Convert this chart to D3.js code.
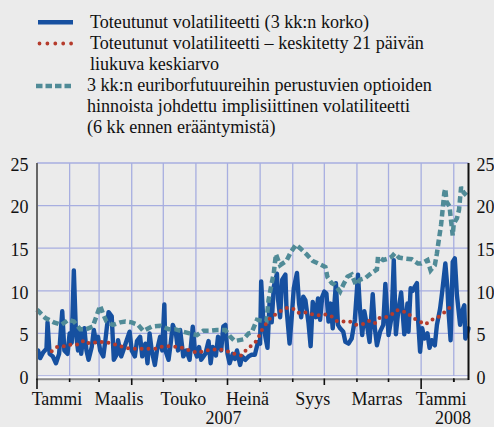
<!DOCTYPE html>
<html>
<head>
<meta charset="utf-8">
<script src="https://cdn.jsdelivr.net/npm/d3@7"></script>
<style>
  body { margin: 0; background: #ebebeb; }
  svg, svg text { font-family: "Liberation Serif", "Times New Roman", Times, serif; }
</style>
</head>
<body>
<svg width="494" height="427"></svg>
<script>
// --- data ---
var legendText = [
    ["Toteutunut volatiliteetti (3 kk:n korko)"],
    ["Toteutunut volatiliteetti \u2013 keskitetty 21 päivän", "liukuva keskiarvo"],
    ["3 kk:n euriborfutuureihin perustuvien optioiden", "hinnoista johdettu implisiittinen volatiliteetti", "(6 kk ennen erääntymistä)"]
];

var yTicks = [0, 5, 10, 15, 20, 25];
var monthLabels = ["Tammi", "Maalis", "Touko", "Heinä", "Syys", "Marras", "Tammi"];
var labelMonths = ["2007-01", "2007-03", "2007-05", "2007-07", "2007-09", "2007-11", "2008-01"];
var yearLabels = ["2007", "2008"];

var realized = [
    ["2007-01-02",3.0],["2007-01-04",2.1],["2007-01-07",2.8],["2007-01-10",3.2],["2007-01-11",6.3],["2007-01-13",2.6],
    ["2007-01-16",2.3],["2007-01-19",1.5],["2007-01-22",2.6],["2007-01-25",7.6],["2007-01-27",3.0],["2007-01-30",2.6],
    ["2007-02-01",5.0],["2007-02-03",3.9],["2007-02-05",12.4],["2007-02-07",5.0],["2007-02-09",3.0],["2007-02-11",5.4],
    ["2007-02-12",2.6],["2007-02-15",5.6],["2007-02-17",3.0],["2007-02-19",1.9],["2007-02-22",3.4],["2007-02-24",5.4],
    ["2007-02-26",4.0],["2007-02-28",4.6],["2007-03-02",3.0],["2007-03-05",2.3],["2007-03-07",4.2],["2007-03-10",7.5],
    ["2007-03-13",7.0],["2007-03-15",1.9],["2007-03-18",2.6],["2007-03-19",4.2],["2007-03-22",2.3],["2007-03-24",3.0],
    ["2007-03-27",4.1],["2007-03-30",5.2],["2007-04-01",3.0],["2007-04-04",2.3],["2007-04-06",4.1],["2007-04-09",4.6],
    ["2007-04-11",2.3],["2007-04-14",3.8],["2007-04-16",1.5],["2007-04-18",5.0],["2007-04-20",3.0],["2007-04-23",1.3],
    ["2007-04-25",3.0],["2007-04-28",4.6],["2007-04-30",3.0],["2007-05-02",8.4],["2007-05-03",3.0],["2007-05-06",1.9],
    ["2007-05-08",3.8],["2007-05-10",6.0],["2007-05-13",5.0],["2007-05-15",3.0],["2007-05-17",5.4],["2007-05-20",2.3],
    ["2007-05-23",3.0],["2007-05-26",1.9],["2007-05-29",5.8],["2007-05-31",3.0],["2007-06-02",2.3],["2007-06-04",3.4],
    ["2007-06-06",1.9],["2007-06-10",2.6],["2007-06-13",4.1],["2007-06-15",1.5],["2007-06-17",3.4],["2007-06-20",2.4],
    ["2007-06-22",4.6],["2007-06-25",3.0],["2007-06-27",5.8],["2007-06-29",6.0],["2007-07-01",2.6],["2007-07-03",1.5],
    ["2007-07-06",2.6],["2007-07-08",2.0],["2007-07-10",3.0],["2007-07-13",1.3],["2007-07-15",2.3],["2007-07-18",1.9],
    ["2007-07-21",2.3],["2007-07-24",2.5],["2007-07-27",2.5],["2007-07-30",4.0],["2007-08-01",3.8],["2007-08-02",11.1],
    ["2007-08-04",6.6],["2007-08-06",4.6],["2007-08-08",3.3],["2007-08-10",8.7],["2007-08-12",6.3],["2007-08-14",10.5],
    ["2007-08-17",12.0],["2007-08-18",9.0],["2007-08-20",6.9],["2007-08-22",11.3],["2007-08-25",11.9],["2007-08-26",8.1],
    ["2007-08-29",3.8],["2007-08-31",6.9],["2007-09-02",10.3],["2007-09-05",12.1],["2007-09-07",8.5],["2007-09-09",6.9],
    ["2007-09-11",9.3],["2007-09-13",8.9],["2007-09-16",6.2],["2007-09-18",3.5],["2007-09-20",8.7],["2007-09-23",6.9],
    ["2007-09-25",9.1],["2007-09-27",6.6],["2007-09-29",9.3],["2007-10-01",9.9],["2007-10-03",9.7],["2007-10-05",6.4],
    ["2007-10-07",8.5],["2007-10-09",5.6],["2007-10-12",10.9],["2007-10-14",6.0],["2007-10-16",5.6],["2007-10-19",5.2],
    ["2007-10-21",4.0],["2007-10-24",3.8],["2007-10-27",4.4],["2007-10-30",6.6],["2007-11-02",11.9],["2007-11-04",7.6],
    ["2007-11-06",4.8],["2007-11-08",7.6],["2007-11-11",5.6],["2007-11-13",4.0],["2007-11-16",9.6],["2007-11-18",5.6],
    ["2007-11-20",3.6],["2007-11-23",5.2],["2007-11-26",6.0],["2007-11-28",10.8],["2007-12-01",4.8],["2007-12-04",7.0],
    ["2007-12-06",13.6],["2007-12-08",4.9],["2007-12-10",7.3],["2007-12-13",9.8],["2007-12-16",4.9],["2007-12-19",8.5],
    ["2007-12-20",5.2],["2007-12-22",10.3],["2007-12-24",10.0],["2007-12-26",10.5],["2007-12-28",10.9],["2007-12-29",6.8],
    ["2007-12-31",2.85],["2008-01-02",5.6],["2008-01-04",4.4],["2008-01-07",5.0],["2008-01-09",3.3],["2008-01-11",4.2],
    ["2008-01-14",3.6],["2008-01-16",6.0],["2008-01-19",7.9],["2008-01-21",9.9],["2008-01-24",13.2],["2008-01-26",10.3],
    ["2008-01-27",7.6],["2008-01-29",4.2],["2008-01-31",13.4],["2008-02-02",13.8],["2008-02-04",9.5],["2008-02-07",6.0],
    ["2008-02-09",7.6],["2008-02-11",8.3],["2008-02-12",4.4],["2008-02-15",5.6]
];

var movingAvg = [
    ["2007-01-15",2.9],["2007-01-20",3.4],["2007-01-28",3.5],["2007-02-04",3.75],["2007-02-09",3.7],["2007-02-15",4.2],
    ["2007-02-20",3.8],["2007-02-27",4.0],["2007-03-06",4.0],["2007-03-13",3.8],["2007-03-19",3.6],["2007-03-26",3.3],
    ["2007-04-02",3.2],["2007-04-10",3.2],["2007-04-17",3.2],["2007-04-24",3.2],["2007-05-01",3.5],["2007-05-08",3.5],
    ["2007-05-15",3.4],["2007-05-21",3.25],["2007-05-28",2.9],["2007-06-03",2.7],["2007-06-10",3.0],["2007-06-17",3.1],
    ["2007-06-24",3.1],["2007-07-01",2.9],["2007-07-08",2.6],["2007-07-14",2.4],["2007-07-19",3.1],["2007-07-25",3.7],
    ["2007-07-30",4.3],["2007-08-01",5.1],["2007-08-05",5.8],["2007-08-09",6.6],["2007-08-14",7.1],["2007-08-20",7.6],
    ["2007-08-26",8.0],["2007-09-02",7.85],["2007-09-06",7.4],["2007-09-12",7.5],["2007-09-18",7.3],["2007-09-25",7.1],
    ["2007-10-01",7.25],["2007-10-07",7.1],["2007-10-13",6.45],["2007-10-18",6.4],["2007-10-25",6.4],["2007-10-31",6.0],
    ["2007-11-07",6.1],["2007-11-13",6.5],["2007-11-18",6.2],["2007-11-22",6.8],["2007-11-28",6.9],["2007-12-03",7.1],
    ["2007-12-09",7.75],["2007-12-13",7.6],["2007-12-19",7.45],["2007-12-23",6.9],["2007-12-30",6.45],["2008-01-05",6.05],
    ["2008-01-11",6.6],["2008-01-17",6.9],["2008-01-23",7.45],["2008-01-28",8.0]
];

var implied = [
    ["2007-01-01",7.8],["2007-01-05",7.3],["2007-01-09",6.8],["2007-01-17",6.3],["2007-01-24",6.0],["2007-01-31",6.6],
    ["2007-02-05",6.4],["2007-02-11",5.5],["2007-02-17",5.5],["2007-02-23",5.8],["2007-02-27",7.2],["2007-03-02",8.25],
    ["2007-03-05",7.2],["2007-03-08",6.4],["2007-03-14",6.0],["2007-03-21",6.3],["2007-03-26",6.4],["2007-04-01",6.3],
    ["2007-04-07",6.0],["2007-04-12",5.3],["2007-04-20",5.8],["2007-04-28",5.9],["2007-05-06",5.5],["2007-05-12",5.5],
    ["2007-05-20",5.2],["2007-05-26",5.0],["2007-06-02",4.8],["2007-06-08",5.3],["2007-06-14",5.3],["2007-06-21",5.4],
    ["2007-06-29",5.4],["2007-07-03",4.7],["2007-07-08",4.1],["2007-07-16",4.3],["2007-07-21",5.0],["2007-07-24",5.1],
    ["2007-07-29",6.6],["2007-08-02",6.5],["2007-08-07",6.4],["2007-08-09",8.9],["2007-08-12",10.9],["2007-08-14",12.1],
    ["2007-08-16",14.3],["2007-08-20",13.0],["2007-08-26",13.5],["2007-08-30",14.5],["2007-09-04",15.4],["2007-09-08",15.0],
    ["2007-09-14",14.3],["2007-09-20",13.5],["2007-09-27",13.1],["2007-10-02",12.8],["2007-10-04",11.6],["2007-10-08",10.9],
    ["2007-10-11",10.7],["2007-10-16",9.9],["2007-10-19",10.7],["2007-10-23",11.65],["2007-10-27",11.9],["2007-10-31",10.7],
    ["2007-11-04",11.3],["2007-11-09",11.5],["2007-11-15",12.1],["2007-11-20",12.5],["2007-11-21",14.0],["2007-11-26",13.6],
    ["2007-12-01",13.8],["2007-12-04",14.0],["2007-12-07",14.4],["2007-12-11",13.9],["2007-12-16",13.8],["2007-12-23",13.7],
    ["2007-12-29",13.2],["2008-01-01",13.2],["2008-01-07",13.6],["2008-01-10",12.4],["2008-01-14",13.0],["2008-01-16",14.4],
    ["2008-01-17",15.3],["2008-01-20",17.8],["2008-01-23",21.5],["2008-01-24",22.0],["2008-01-25",20.5],["2008-01-28",19.9],
    ["2008-01-29",18.7],["2008-01-31",16.5],["2008-02-01",17.9],["2008-02-04",18.5],["2008-02-06",19.5],["2008-02-08",22.2],
    ["2008-02-10",21.6],["2008-02-13",21.2]
];

// --- drawing ---
var svg = d3.select("svg");
var parseDay = d3.timeParse("%Y-%m-%d"),
    parseMonth = d3.timeParse("%Y-%m");

var serif = "'Liberation Serif', 'Times New Roman', Times, serif";
var fontSize = "18px", legendSize = "18.1px";
var blue = "#1650a0", red = "#b53b2c", teal = "#508b97", gridColor = "#a7aee0";

var x = d3.scaleTime()
    .domain([parseDay("2007-01-01"), parseDay("2008-02-15")])
    .range([37, 468.5]);
var y = d3.scaleLinear()
    .domain([0, 25])
    .range([376, 163]);

var left = x.range()[0], right = x.range()[1];
var months = d3.timeMonth.range(x.domain()[0], x.domain()[1]);

// grid
var grid = svg.append("g").attr("class", "grid");
grid.selectAll("line.h")
    .data(yTicks).enter()
    .append("line")
    .attr("x1", left).attr("x2", right)
    .attr("y1", function(d) { return y(d); })
    .attr("y2", function(d) { return y(d); })
    .style("stroke", gridColor).style("stroke-width", 1.3);
grid.selectAll("line.v")
    .data(months.slice(1)).enter()
    .append("line")
    .attr("x1", function(d) { return x(d); })
    .attr("x2", function(d) { return x(d); })
    .attr("y1", y(25)).attr("y2", y(0))
    .style("stroke", gridColor).style("stroke-width", 1.3);

// series
var toPoints = function(arr) {
    return arr.map(function(d) { return { date: parseDay(d[0]), value: d[1] }; });
};
var line = d3.line()
    .x(function(d) { return x(d.date); })
    .y(function(d) { return y(d.value); });

var plot = svg.append("g").attr("class", "series");
plot.append("path")
    .datum(toPoints(realized))
    .attr("d", line)
    .style("fill", "none").style("stroke", blue)
    .style("stroke-width", 4.4).style("stroke-linejoin", "round").style("stroke-linecap", "round");
plot.append("path")
    .datum(toPoints(implied))
    .attr("d", line)
    .style("fill", "none").style("stroke", teal)
    .style("stroke-width", 4.5).style("stroke-dasharray", "6.5,3.5");
plot.append("path")
    .datum(toPoints(movingAvg))
    .attr("d", line)
    .style("fill", "none").style("stroke", red)
    .style("stroke-width", 4).style("stroke-linecap", "round").style("stroke-dasharray", "0,6.8");

// frame
svg.append("line").attr("x1", left).attr("x2", right).attr("y1", 377).attr("y2", 377)
    .style("stroke", "#fff").style("stroke-width", 1.5);
svg.append("line").attr("x1", left).attr("x2", right).attr("y1", 379.3).attr("y2", 379.3)
    .style("stroke", "#8a8a8a").style("stroke-width", 2);
svg.append("line").attr("x1", left).attr("x2", left).attr("y1", y(25)).attr("y2", 380)
    .style("stroke", "#666").style("stroke-width", 2);
svg.append("line").attr("x1", right).attr("x2", right).attr("y1", y(25)).attr("y2", 380)
    .style("stroke", "#111").style("stroke-width", 2);

// x ticks: month small, quarter medium, year long
svg.append("g").selectAll("line")
    .data(months.concat([parseDay("2008-02-01")])).enter()
    .append("line")
    .attr("x1", function(d) { return x(d); })
    .attr("x2", function(d) { return x(d); })
    .attr("y1", 378.5)
    .attr("y2", function(d) {
        var m = d.getMonth();
        return 379 + (m === 0 ? 10 : (m % 3 === 0 ? 6 : 3));
    })
    .style("stroke", "#111").style("stroke-width", 1.6);

// y axes
var yLeft = svg.append("g")
    .attr("transform", "translate(" + left + ",0)")
    .call(d3.axisLeft(y).tickValues(yTicks).tickSize(0).tickPadding(8.5));
var yRight = svg.append("g")
    .attr("transform", "translate(" + right + ",0)")
    .call(d3.axisRight(y).tickValues(yTicks).tickSize(0).tickPadding(8));
[yLeft, yRight].forEach(function(g) {
    g.attr("font-family", serif).attr("font-size", fontSize);
    g.select(".domain").remove();
    g.selectAll("text")
        .attr("dy", "0.4em")
        .attr("font-family", serif)
        .style("font-size", fontSize).style("fill", "#111");
});

// month labels
svg.append("g").selectAll("text")
    .data(monthLabels).enter()
    .append("text")
    .attr("x", function(d, i) { return x(d3.timeDay.offset(parseMonth(labelMonths[i]), 19)); })
    .attr("y", 405)
    .attr("text-anchor", "middle")
    .attr("font-family", serif)
    .style("font-size", fontSize).style("fill", "#111")
    .text(function(d) { return d; });

// year labels
svg.append("text")
    .attr("x", x(parseMonth("2007-07")) - 4).attr("y", 424)
    .attr("text-anchor", "middle")
    .attr("font-family", serif)
    .style("font-size", fontSize).style("fill", "#111")
    .text(yearLabels[0]);
svg.append("text")
    .attr("x", right + 2.5).attr("y", 424)
    .attr("text-anchor", "end")
    .attr("font-family", serif)
    .style("font-size", fontSize).style("fill", "#111")
    .text(yearLabels[1]);

// legend
var legend = svg.append("g").attr("class", "legend");
var lineH = 21;
var rowStart = [0, 1, 3];
var textX = [90, 90, 87];
legendText.forEach(function(lines, i) {
    var base = 28 + rowStart[i] * lineH;
    lines.forEach(function(t, j) {
        legend.append("text")
            .attr("x", textX[i]).attr("y", base + j * lineH)
            .attr("font-family", serif)
            .style("font-size", legendSize).style("fill", "#111")
            .text(t);
    });
});
legend.append("line")
    .attr("x1", 38).attr("x2", 73).attr("y1", 22.3).attr("y2", 22.3)
    .style("stroke", blue).style("stroke-width", 4.5);
legend.append("line")
    .attr("x1", 39.5).attr("x2", 73).attr("y1", 43.5).attr("y2", 43.5)
    .style("stroke", red).style("stroke-width", 3.8)
    .style("stroke-linecap", "round").style("stroke-dasharray", "0,7.9");
legend.append("line")
    .attr("x1", 36).attr("x2", 71).attr("y1", 86).attr("y2", 86)
    .style("stroke", teal).style("stroke-width", 4.5).style("stroke-dasharray", "6.5,3");
</script>
</body>
</html>
